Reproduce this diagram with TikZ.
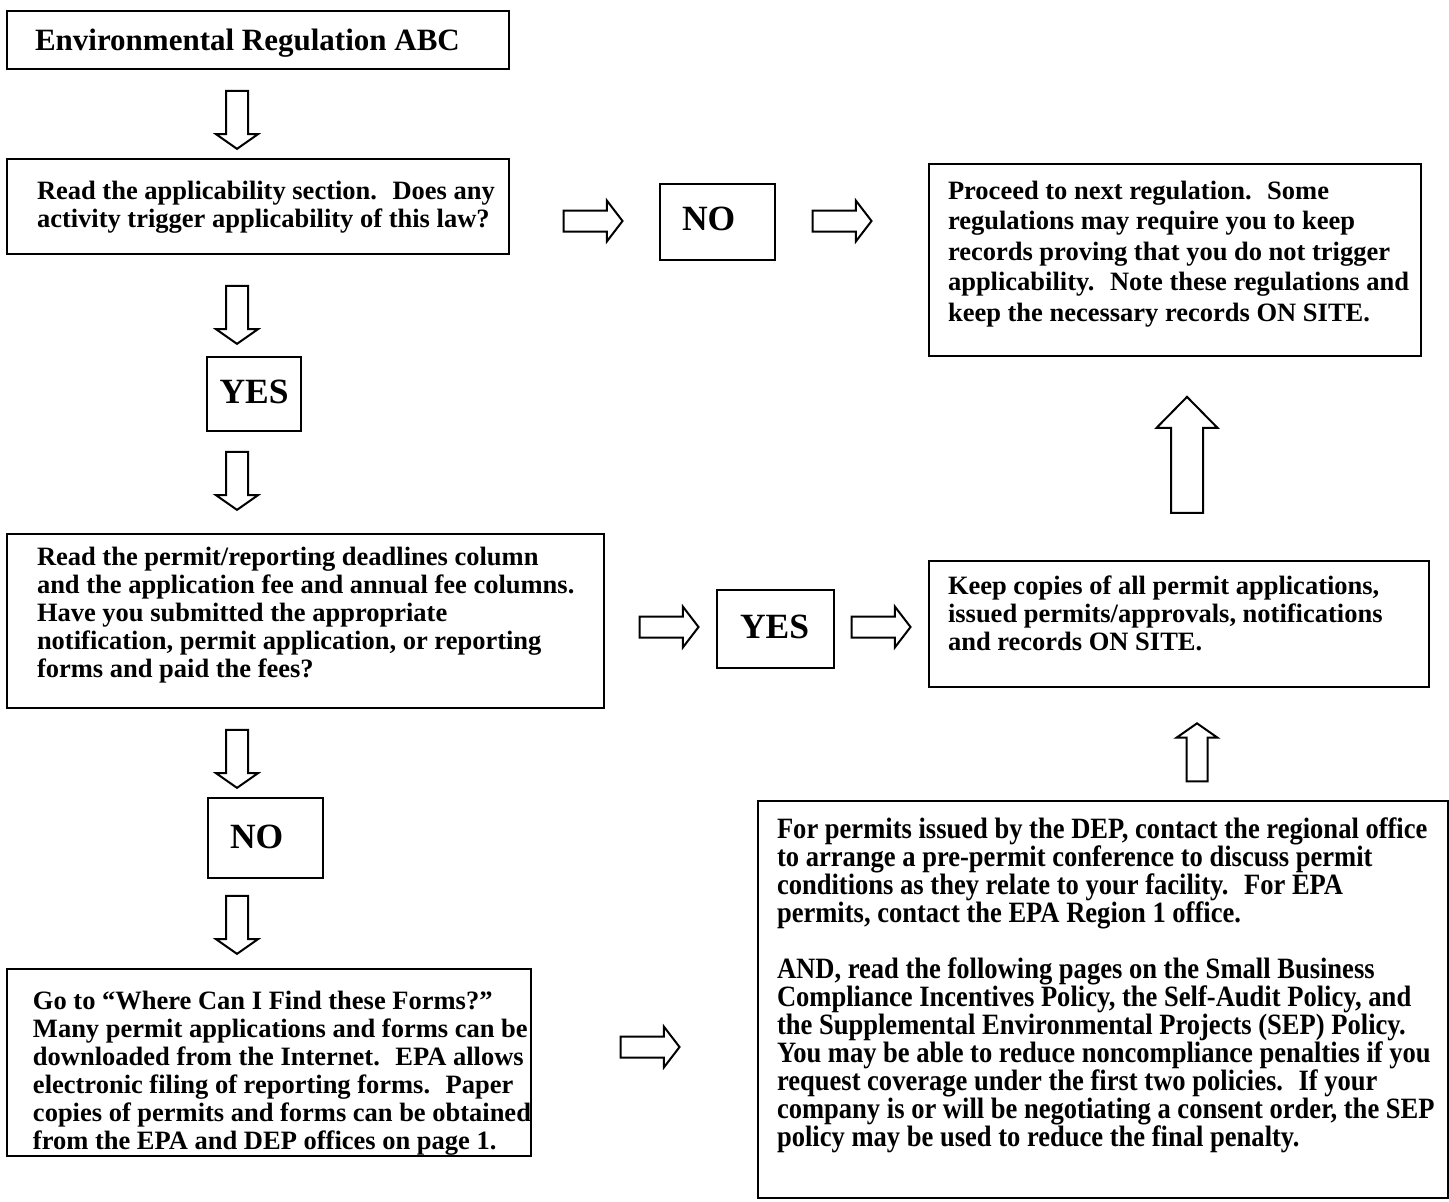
\documentclass[tikz,border=0pt]{standalone}
\usepackage{fontspec}
\setmainfont{Liberation Serif}
\newfontfamily\narrowserif{Liberation Serif}[FakeStretch=0.9]
\usepackage{tikz}
\usetikzlibrary{shapes.arrows}
% width, height, left pad, first line height, text
\newcommand{\boxtxt}[5]{\parbox[t][#2][t]{#1}{\raggedright\leftskip=#3\relax\rule{0pt}{#4}#5}}

\begin{document}
\begin{tikzpicture}[x=0.5pt,y=-0.5pt,line width=1pt,
	regbox/.style={draw, anchor=north west, inner sep=0pt, font=\bfseries\fontsize{13.25}{14}\selectfont},
	bigword/.style={regbox, font=\bfseries\fontsize{17.75}{20}\selectfont},
	downarr/.style={single arrow, draw, rotate=-90, inner xsep=0pt, inner ysep=5pt,
		single arrow head extend=5pt, single arrow tip angle=110, minimum height=29pt},
	rightarr/.style={single arrow, draw, inner xsep=0pt, inner ysep=4.75pt,
		single arrow head extend=5pt, single arrow tip angle=105, minimum height=29.5pt}]
	\useasboundingbox (0,0) rectangle (1449,1201);
	\node[regbox, font=\bfseries\fontsize{15.5}{18}\selectfont] (title) at (6,10)
		{\boxtxt{251pt}{29pt}{14pt}{19.5pt}{Environmental Regulation ABC}};
	\node[regbox] (read) at (6,158)
		{\boxtxt{251pt}{47.5pt}{15pt}{20pt}{Read the applicability section.~ Does any\\
		activity trigger applicability of this law?}};
	\node[bigword] (no1) at (659,183) {\boxtxt{57.5pt}{38pt}{11pt}{23pt}{NO}};
	\node[regbox, font=\bfseries\fontsize{13.25}{15.25}\selectfont] (proceed) at (928,163)
		{\boxtxt{246pt}{96pt}{9.5pt}{17.5pt}{Proceed to next regulation.~ Some\\
		regulations may require you to keep\\
		records proving that you do not trigger\\
		applicability.~ Note these regulations and\\
		keep the necessary records ON SITE.}};
	\node[bigword] (yes1) at (206,356) {\boxtxt{47pt}{37pt}{6.25pt}{23pt}{YES}};
	\node[regbox] (permit) at (6,533)
		{\boxtxt{298.5pt}{87pt}{15pt}{15.5pt}{Read the permit/reporting deadlines column\\
		and the application fee and annual fee columns.\\
		Have you submitted the appropriate\\
		notification, permit application, or reporting\\
		forms and paid the fees?}};
	\node[bigword] (yes2) at (716,589) {\boxtxt{58.5pt}{39pt}{11.5pt}{24pt}{YES}};
	\node[regbox] (keep) at (928,560)
		{\boxtxt{250pt}{63pt}{9.5pt}{16.5pt}{Keep copies of all permit applications,\\
		issued permits/approvals, notifications\\
		and records ON SITE.}};
	\node[bigword] (no2) at (207,797) {\boxtxt{57.5pt}{40pt}{11pt}{25pt}{NO}};
	\node[regbox] (goto) at (6,968)
		{\boxtxt{262pt}{93.5pt}{13pt}{20pt}{Go to “Where Can I Find these Forms?”\\
		Many permit applications and forms can be\\
		downloaded from the Internet.~ EPA allows\\
		electronic filing of reporting forms.~ Paper\\
		copies of permits and forms can be obtained\\
		from the EPA and DEP offices on page 1.}};
	\node[regbox, font=\narrowserif\bfseries\fontsize{14.75}{14}\selectfont] (dep) at (757,800)
		{\boxtxt{345pt}{198.5pt}{9.5pt}{18.5pt}{For permits issued by the DEP, contact the regional office\\
		to arrange a pre-permit conference to discuss permit\\
		conditions as they relate to your facility.~ For EPA\\
		permits, contact the EPA Region 1 office.\\[14pt]
		AND, read the following pages on the Small Business\\
		Compliance Incentives Policy, the Self-Audit Policy, and\\
		the Supplemental Environmental Projects (SEP) Policy.\\
		You may be able to reduce noncompliance penalties if you\\
		request coverage under the first two policies.~ If your\\
		company is or will be negotiating a consent order, the SEP\\
		policy may be used to reduce the final penalty.}};
	% block arrows
	\foreach \y/\n in {116/a1,311/a4,477/a5,755/a10,921/a11}
		\node[downarr] (\n) at (237,\y) {};
	\foreach \x/\y/\n in {589/221/a2,838/221/a3,665/627/a6,877/627/a7,646/1047/a12}
		\node[rightarr] (\n) at (\x,\y) {};
	\node[single arrow, draw, rotate=90, inner xsep=0pt, inner ysep=7.5pt,
		single arrow head extend=7.25pt, single arrow tip angle=89, minimum height=58pt] (a8) at (1187,463) {};
	\node[downarr, rotate=180, inner ysep=4.75pt] (a9) at (1197,756) {};
\end{tikzpicture}
\end{document}
